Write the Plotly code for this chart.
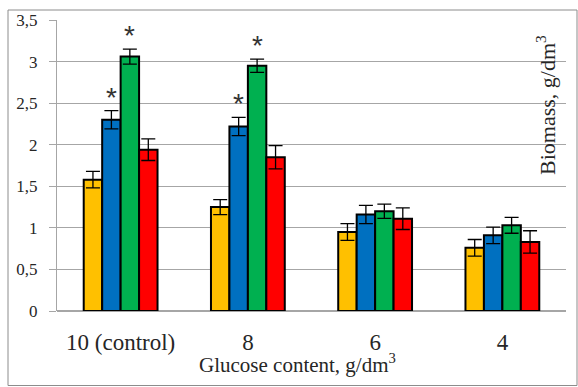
import plotly.graph_objects as go

categories = ["10 (control)", "8", "6", "4"]
series_colors = ["#FFC000", "#0070C0", "#00B050", "#FF0000"]
values_yellow = [1.58, 1.25, 0.95, 0.76]
values_blue = [2.30, 2.22, 1.16, 0.91]
values_green = [3.06, 2.95, 1.20, 1.03]
values_red = [1.94, 1.85, 1.11, 0.83]
err_yellow = [0.10, 0.09, 0.10, 0.10]
err_blue = [0.11, 0.11, 0.11, 0.10]
err_green = [0.09, 0.08, 0.085, 0.095]
err_red = [0.13, 0.14, 0.13, 0.135]
# significance marks: (series index, category index)
stars = [(1, 0), (2, 0), (1, 1), (2, 1)]

y_ticks = [0, 0.5, 1, 1.5, 2, 2.5, 3, 3.5]
y_tick_text = ["0", "0,5", "1", "1,5", "2", "2,5", "3", "3,5"]

series_vals = [values_yellow, values_blue, values_green, values_red]
series_errs = [err_yellow, err_blue, err_green, err_red]

FONT = "Liberation Serif"
TXT = "#262626"

fig = go.Figure()
for vals, errs, col in zip(series_vals, series_errs, series_colors):
    fig.add_trace(go.Bar(
        x=categories, y=vals,
        marker=dict(color=col, line=dict(color="black", width=2)),
        error_y=dict(type="data", array=errs, visible=True,
                     color="black", thickness=1.3, width=7),
        showlegend=False,
    ))

L, R, T, B = 57, 12, 20, 76
W, H = 578, 387
pw, ph = W - L - R, H - T - B
bar_px = pw / len(categories) * 0.58 / 4

for si, ci in stars:
    fig.add_annotation(
        x=ci, y=series_vals[si][ci] + series_errs[si][ci],
        xref="x", yref="y", text="*", showarrow=False,
        xshift=(si - 1.5) * bar_px, yshift=-4, yanchor="bottom",
        font=dict(family="Liberation Sans", size=28, color="#333333"),
    )

# rotated y-axis title drawn inside the plot area
fig.add_annotation(
    x=(546 - L) / pw, y=(H - B - 105) / ph, xref="paper", yref="paper",
    xanchor="center", yanchor="middle",
    text="Biomass, g/dm<sup>3</sup>",
    showarrow=False, textangle=-90, font=dict(family=FONT, size=22, color=TXT),
)

# x-axis title
fig.add_annotation(
    x=(297 - L) / pw, y=(H - B - 363) / ph, xref="paper", yref="paper",
    xanchor="center", yanchor="middle",
    text="Glucose content, g/dm<sup>3</sup>",
    showarrow=False, font=dict(family=FONT, size=21, color=TXT),
)

# outer frame
fig.add_shape(type="rect", xref="paper", yref="paper",
              x0=(8 - L) / pw, x1=(577 - L) / pw,
              y0=(H - B - 385.5) / ph, y1=(H - B - 10) / ph,
              line=dict(color="#8c8c8c", width=1), layer="below")

fig.update_layout(
    width=W, height=H,
    margin=dict(l=L, r=R, t=T, b=B, autoexpand=False),
    paper_bgcolor="white", plot_bgcolor="white",
    barmode="group", bargap=0.42, bargroupgap=0,
    font=dict(family=FONT, color=TXT),
    xaxis=dict(
        type="category",
        tickfont=dict(size=23, family=FONT, color=TXT),
        showline=False, showgrid=False, ticks="outside", ticklen=10,
        tickcolor="rgba(0,0,0,0)",
    ),
    yaxis=dict(
        range=[0, 3.5], tickvals=y_ticks, ticktext=y_tick_text,
        tickfont=dict(size=17, family=FONT, color=TXT),
        showgrid=True, gridcolor="#a6a6a6", gridwidth=1,
        showline=True, linecolor="#a6a6a6", linewidth=1,
        ticks="outside", ticklen=7, tickcolor="#a6a6a6",
        ticklabelstandoff=8,
        zeroline=True, zerolinecolor="#a6a6a6", zerolinewidth=1.5,
    ),
)

fig.write_html("out.html", config={"displayModeBar": False},
               post_script="document.body.style.margin='0';")
